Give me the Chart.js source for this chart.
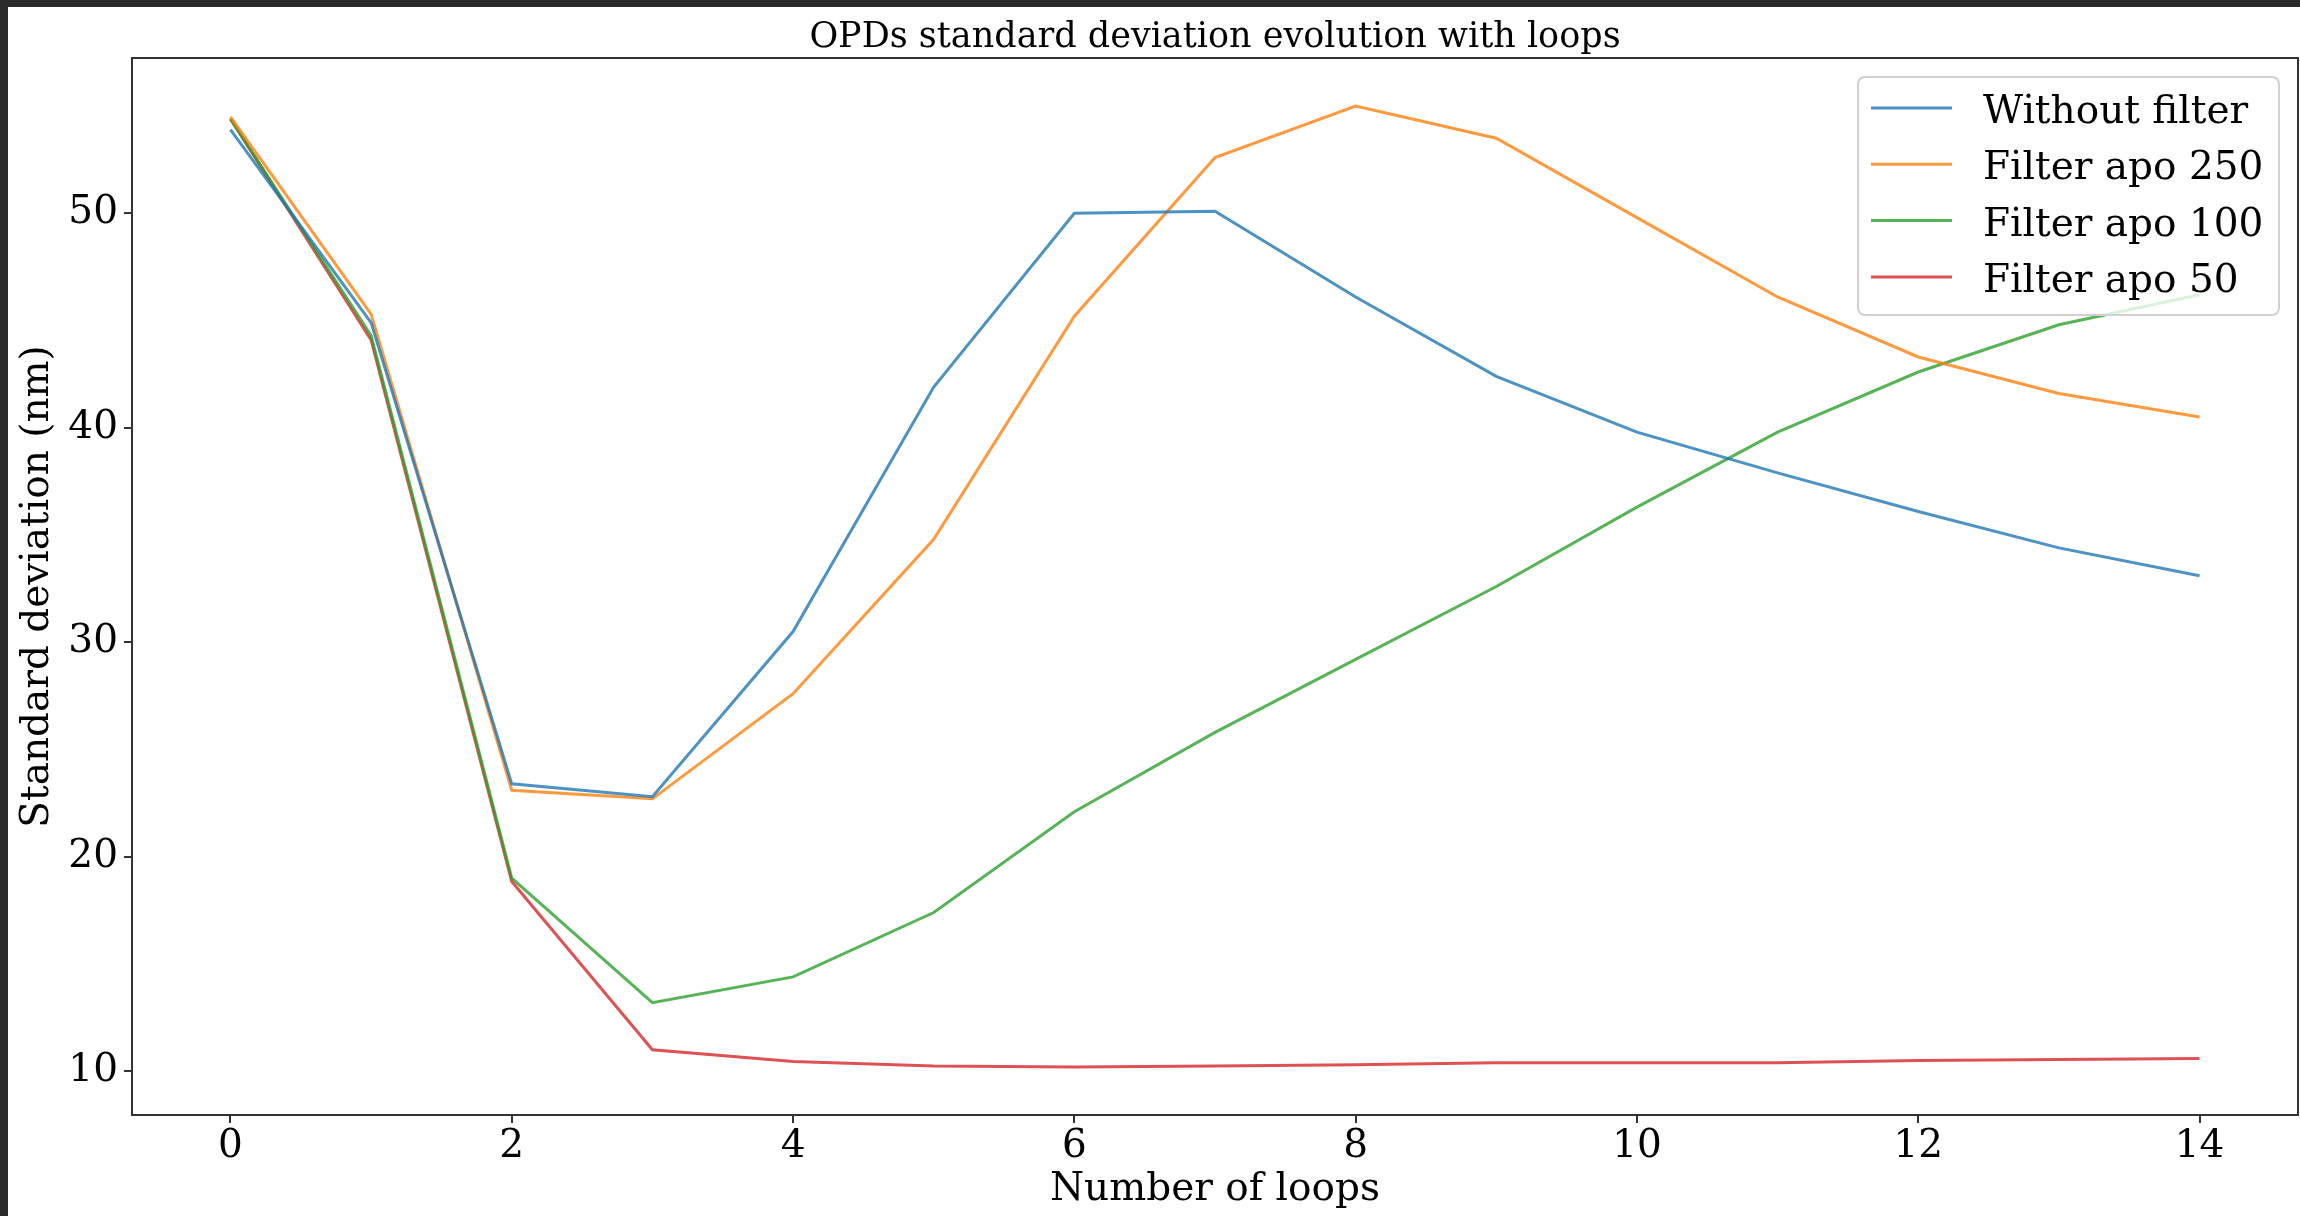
<!DOCTYPE html>
<html>
<head>
<meta charset="utf-8">
<script src="https://cdn.jsdelivr.net/npm/chart.js@4.4.1/dist/chart.umd.min.js"></script>
<style>
  html, body { margin: 0; padding: 0; width: 2300px; height: 1216px; overflow: hidden; background: #2b2b2b; }
  #sheet { position: absolute; left: 8px; top: 7px; width: 2292px; height: 1209px; background: #ffffff; }
  #chart { position: absolute; left: 0; top: 0; }
</style>
</head>
<body>
<div id="sheet"></div>
<canvas id="chart" width="2300" height="1216"></canvas>
<script>
// Number of loops (x axis)
const loops = [0, 1, 2, 3, 4, 5, 6, 7, 8, 9, 10, 11, 12, 13, 14];

// Standard deviation of the OPDs (nm) for each loop
const withoutFilter = [53.9, 44.9, 23.4, 22.8, 30.5, 41.9, 50.0, 50.1, 46.1, 42.4, 39.8, 37.9, 36.1, 34.4, 33.1];
const filterApo250  = [54.5, 45.3, 23.1, 22.7, 27.6, 34.8, 45.2, 52.6, 55.0, 53.5, 49.8, 46.1, 43.3, 41.6, 40.5];
const filterApo100  = [54.4, 44.3, 19.0, 13.2, 14.4, 17.4, 22.1, 25.8, 29.2, 32.6, 36.3, 39.8, 42.6, 44.8, 46.2];
const filterApo50   = [54.4, 44.1, 18.85, 11.0, 10.45, 10.25, 10.2, 10.25, 10.3, 10.4, 10.4, 10.4, 10.5, 10.55, 10.6];

const seriesNames  = ['Without filter', 'Filter apo 250', 'Filter apo 100', 'Filter apo 50'];
const seriesValues = [withoutFilter, filterApo250, filterApo100, filterApo50];
const seriesColors = ['rgba(31,119,180,0.8)', 'rgba(255,127,14,0.8)', 'rgba(44,160,44,0.8)', 'rgba(214,39,40,0.8)'];

// Tick labels
const xTicks = [0, 2, 4, 6, 8, 10, 12, 14];
const yTicks = [10, 20, 30, 40, 50];

const chartTitle = 'OPDs standard deviation evolution with loops';

const SERIF = "'DejaVu Serif', 'Liberation Serif', serif";
const INK = '#000000';
const SPINE = '#333333';

// Title centred over the axes, the four spines, and the boxed legend in the upper right corner
const frameAndLegend = {
  id: 'frameAndLegend',
  afterDatasetsDraw(chart) {
    const { ctx, chartArea: a } = chart;
    ctx.save();

    ctx.fillStyle = INK;
    ctx.font = '35px ' + SERIF;
    ctx.textAlign = 'center';
    ctx.textBaseline = 'alphabetic';
    ctx.fillText(chartTitle, (a.left + a.right) / 2, a.top - 11.5);

    ctx.strokeStyle = SPINE;
    ctx.lineWidth = 2;
    ctx.strokeRect(a.left, a.top, a.right - a.left, a.bottom - a.top);

    const bw = 421, bh = 238;
    const bx = a.right - 19 - bw, by = a.top + 19;
    ctx.beginPath();
    ctx.roundRect(bx, by, bw, bh, 7);
    ctx.fillStyle = 'rgba(255,255,255,0.8)';
    ctx.fill();
    ctx.strokeStyle = '#d0d0d0';
    ctx.lineWidth = 2;
    ctx.stroke();

    ctx.font = '39px ' + SERIF;
    ctx.textAlign = 'left';
    ctx.textBaseline = 'alphabetic';
    chart.data.datasets.forEach((ds, i) => {
      const y = by + 31 + i * 56.3;
      ctx.strokeStyle = ds.borderColor;
      ctx.lineWidth = 3;
      ctx.beginPath();
      ctx.moveTo(bx + 13, y);
      ctx.lineTo(bx + 94, y);
      ctx.stroke();
      ctx.fillStyle = INK;
      ctx.fillText(ds.label, bx + 125, y + 15);
    });
    ctx.restore();
  }
};

new Chart(document.getElementById('chart'), {
  type: 'line',
  data: {
    datasets: seriesNames.map((name, i) => ({
      label: name,
      data: loops.map((x, k) => ({ x: x, y: seriesValues[i][k] })),
      borderColor: seriesColors[i],
      backgroundColor: seriesColors[i],
      borderWidth: 3,
      pointRadius: 0,
      pointHoverRadius: 0,
      tension: 0,
      fill: false
    }))
  },
  options: {
    responsive: false,
    animation: false,
    devicePixelRatio: 1,
    layout: { padding: { left: 0, right: 2, top: 58, bottom: 0 } },
    plugins: {
      legend: { display: false },
      tooltip: { enabled: false },
      title: { display: false }
    },
    scales: {
      x: {
        type: 'linear',
        min: -0.7,
        max: 14.7,
        afterBuildTicks: s => { s.ticks = xTicks.map(v => ({ value: v })); },
        afterFit: s => { s.height = 101; },
        border: { display: false },
        grid: { display: true, drawOnChartArea: false, drawTicks: true, tickLength: 8, color: SPINE, lineWidth: 2 },
        ticks: { color: INK, font: { family: SERIF, size: 39 }, padding: 0, maxRotation: 0, autoSkip: false },
        title: {
          display: true,
          text: 'Number of loops',
          color: INK,
          font: { family: SERIF, size: 39, weight: 'normal' },
          padding: { top: 0, bottom: 3 }
        }
      },
      y: {
        type: 'linear',
        min: 7.96,
        max: 57.24,
        afterBuildTicks: s => { s.ticks = yTicks.map(v => ({ value: v })); },
        afterFit: s => { s.width = 132; },
        border: { display: false },
        grid: { display: true, drawOnChartArea: false, drawTicks: true, tickLength: 8, color: SPINE, lineWidth: 2 },
        ticks: { color: INK, font: { family: SERIF, size: 39 }, padding: 6 },
        title: {
          display: true,
          text: 'Standard deviation (nm)',
          color: INK,
          font: { family: SERIF, size: 39, weight: 'normal' },
          padding: { top: 14, bottom: 0 }
        }
      }
    }
  },
  plugins: [frameAndLegend]
});
</script>
</body>
</html>
